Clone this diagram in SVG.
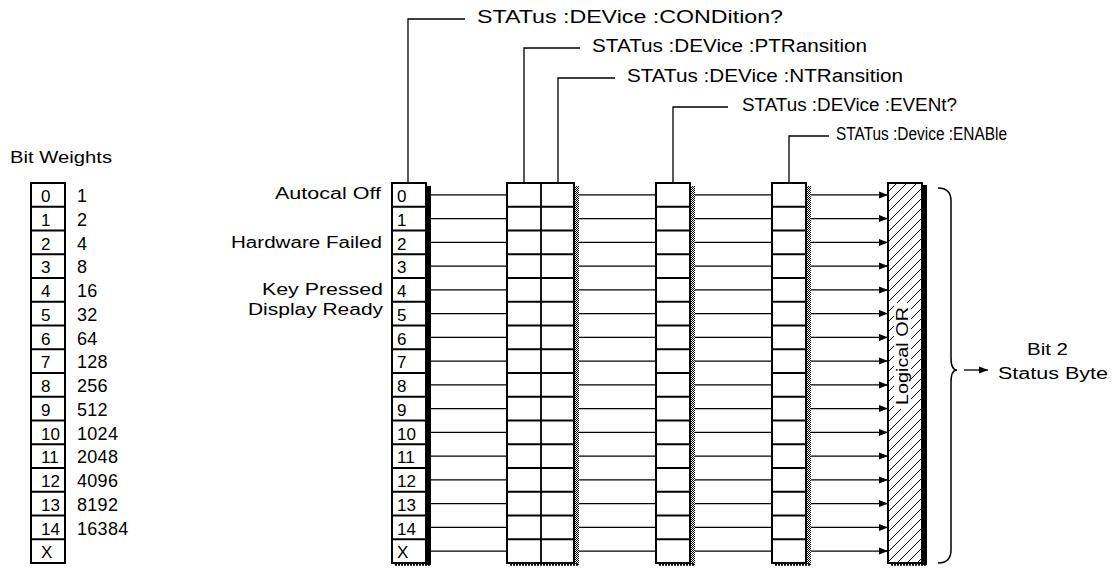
<svg xmlns="http://www.w3.org/2000/svg" xmlns:xlink="http://www.w3.org/1999/xlink" width="1114" height="569" viewBox="0 0 1114 569">
<style>
text{font-family:"Liberation Sans",Arial,sans-serif;fill:#000}
.lbl{font-size:18px}
.num{font-size:18px}
.sm{font-size:16px}
.dg{font-size:17px}
.box{fill:#fff;stroke:#000;stroke-width:2}
.div{fill:none;stroke:#000;stroke-width:1.8}
.ln{fill:none;stroke:#000;stroke-width:1.3}
.sh{fill:#000}
.st{fill:url(#stip)}
.bot{stroke:#000;stroke-width:2.5;stroke-dasharray:2 1}
</style>
<defs>
<pattern id="stip" width="2" height="2" patternUnits="userSpaceOnUse"><rect width="2" height="2" fill="#fff"/><rect width="1" height="1" fill="#000"/><rect x="1" y="1" width="1" height="1" fill="#000"/></pattern>
<pattern id="hatch" width="10" height="10" patternUnits="userSpaceOnUse"><path d="M-1,1 L1,-1 M0,10 L10,0 M9,11 L11,9" stroke="#000" stroke-width="1"/></pattern>
<path id="div" d="M0 206.75H34M0 230.5H34M0 254.25H34M0 278H34M0 301.75H34M0 325.5H34M0 349.25H34M0 373H34M0 396.75H34M0 420.5H34M0 444.25H34M0 468H34M0 491.75H34M0 515.5H34M0 539.25H34"/>
<path id="hl" d="M0 194.9h77M0 218.6h77M0 242.4h77M0 266.1h77M0 289.9h77M0 313.6h77M0 337.4h77M0 361.1h77M0 384.9h77M0 408.6h77M0 432.4h77M0 456.1h77M0 479.9h77M0 503.6h77M0 527.4h77M0 551.1h77"/>
<marker id="ah" markerWidth="10" markerHeight="8" refX="9" refY="4" orient="auto" markerUnits="userSpaceOnUse"><path d="M0,0.5 L9,4 L0,7.5 Z" fill="#000"/></marker>
<g id="digits">
<text x="0" y="202">0</text><text x="0" y="225.75">1</text><text x="0" y="249.5">2</text><text x="0" y="273.25">3</text><text x="0" y="297">4</text><text x="0" y="320.75">5</text><text x="0" y="344.5">6</text><text x="0" y="368.25">7</text><text x="0" y="392">8</text><text x="0" y="415.75">9</text><text x="0" y="439.5">10</text><text x="0" y="463.25">11</text><text x="0" y="487">12</text><text x="0" y="510.75">13</text><text x="0" y="534.5">14</text><text x="0" y="558.25">X</text>
</g>
</defs>
<rect width="1114" height="569" fill="#fff"/>

<g id="bit-weights">
<text class="sm" x="10" y="163" textLength="102" lengthAdjust="spacingAndGlyphs">Bit Weights</text>
<rect class="box" x="31" y="183" width="34" height="380"/>
<use href="#div" x="31" class="div"/>
<use href="#digits" x="41" class="dg"/>
<g class="num" style="letter-spacing:0.3px">
<text x="77" y="202">1</text><text x="77" y="225.75">2</text><text x="77" y="249.5">4</text><text x="77" y="273.25">8</text><text x="77" y="297">16</text><text x="77" y="320.75">32</text><text x="77" y="344.5">64</text><text x="77" y="368.25">128</text><text x="77" y="392">256</text><text x="77" y="415.75">512</text><text x="77" y="439.5">1024</text><text x="77" y="463.25">2048</text><text x="77" y="487">4096</text><text x="77" y="510.75">8192</text><text x="77" y="534.5">16384</text>
</g>
</g>

<g id="event-labels" class="sm">
<text x="275" y="199" textLength="106" lengthAdjust="spacingAndGlyphs">Autocal Off</text>
<text x="231" y="248" textLength="151" lengthAdjust="spacingAndGlyphs">Hardware Failed</text>
<text x="262" y="295" textLength="121" lengthAdjust="spacingAndGlyphs">Key Pressed</text>
<text x="248" y="315" textLength="135" lengthAdjust="spacingAndGlyphs">Display Ready</text>
</g>

<g id="condition-register">
<rect class="sh" x="426" y="186" width="5" height="379"/>
<line class="bot" x1="395" y1="564.5" x2="431" y2="564.5"/>
<rect class="box" x="392" y="183" width="34" height="380"/>
<use href="#div" x="392" class="div"/>
<use href="#digits" x="397" class="dg"/>
</g>

<g id="transition-registers">
<rect class="st" x="574" y="186" width="5" height="379"/>
<line class="bot" x1="510" y1="564.5" x2="579" y2="564.5"/>
<rect class="box" x="507" y="183" width="67" height="380"/>
<line class="div" x1="541" y1="183" x2="541" y2="563"/>
<use href="#div" x="507" class="div"/>
<use href="#div" x="540" class="div"/>
</g>

<g id="event-register">
<rect class="st" x="690" y="186" width="5" height="379"/>
<line class="bot" x1="659" y1="564.5" x2="695" y2="564.5"/>
<rect class="box" x="656" y="183" width="34" height="380"/>
<use href="#div" x="656" class="div"/>
</g>

<g id="enable-register">
<rect class="st" x="806" y="186" width="5" height="379"/>
<line class="bot" x1="775" y1="564.5" x2="811" y2="564.5"/>
<rect class="box" x="772" y="183" width="34" height="380"/>
<use href="#div" x="772" class="div"/>
</g>

<g id="logical-or">
<rect class="sh" x="921" y="185" width="6" height="380"/>
<line class="bot" x1="891" y1="564.5" x2="927" y2="564.5"/>
<rect x="888" y="183" width="34" height="380" fill="url(#hatch)" stroke="#000" stroke-width="2"/>
<rect x="894" y="303" width="17" height="106" fill="#fff"/>
<text class="dg" transform="translate(908,405) rotate(-90)" textLength="98" lengthAdjust="spacingAndGlyphs">Logical OR</text>
</g>

<g id="status-byte">
<text class="sm" x="1027" y="355" textLength="41" lengthAdjust="spacingAndGlyphs">Bit 2</text>
<text class="sm" x="998" y="379" textLength="110" lengthAdjust="spacingAndGlyphs">Status Byte</text>
</g>

<g id="command-labels" class="lbl">
<text x="477" y="23" textLength="306" lengthAdjust="spacingAndGlyphs">STATus :DEVice :CONDition?</text>
<text x="592" y="52" textLength="275" lengthAdjust="spacingAndGlyphs">STATus :DEVice :PTRansition</text>
<text x="627" y="82" textLength="276" lengthAdjust="spacingAndGlyphs">STATus :DEVice :NTRansition</text>
<text x="742" y="111" textLength="215" lengthAdjust="spacingAndGlyphs">STATus :DEVice :EVENt?</text>
<text x="836" y="140" textLength="171" lengthAdjust="spacingAndGlyphs">STATus :Device :ENABle</text>
</g>

<g id="connectors" class="ln">
<path d="M408 183V19H465"/>
<path d="M524 183V48H580"/>
<path d="M558 183V78H615"/>
<path d="M673 183V107H728"/>
<path d="M789 183V136H829"/>
<use href="#hl" x="431"/>
<use href="#hl" x="579"/>
<use href="#hl" x="695"/>
<g marker-end="url(#ah)">
<line x1="811" y1="194.9" x2="888" y2="194.9"/><line x1="811" y1="218.6" x2="888" y2="218.6"/><line x1="811" y1="242.4" x2="888" y2="242.4"/><line x1="811" y1="266.1" x2="888" y2="266.1"/><line x1="811" y1="289.9" x2="888" y2="289.9"/><line x1="811" y1="313.6" x2="888" y2="313.6"/><line x1="811" y1="337.4" x2="888" y2="337.4"/><line x1="811" y1="361.1" x2="888" y2="361.1"/><line x1="811" y1="384.9" x2="888" y2="384.9"/><line x1="811" y1="408.6" x2="888" y2="408.6"/><line x1="811" y1="432.4" x2="888" y2="432.4"/><line x1="811" y1="456.1" x2="888" y2="456.1"/><line x1="811" y1="479.9" x2="888" y2="479.9"/><line x1="811" y1="503.6" x2="888" y2="503.6"/><line x1="811" y1="527.4" x2="888" y2="527.4"/><line x1="811" y1="551.1" x2="888" y2="551.1"/>
</g>
<path d="M938 188Q951 188 951 201V358Q951 370 957 370Q951 370 951 382V550Q951 563 938 563" stroke-width="1.5"/>
<line x1="964" y1="370" x2="988" y2="370" marker-end="url(#ah)"/>
</g>
</svg>
